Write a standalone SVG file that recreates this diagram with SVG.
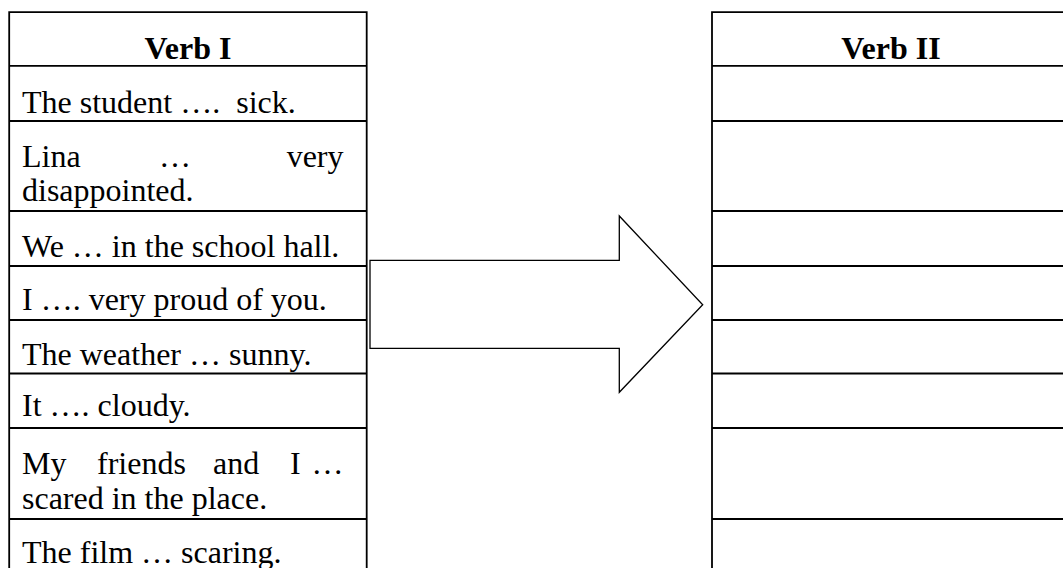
<svg xmlns="http://www.w3.org/2000/svg" width="1063" height="568" viewBox="0 0 1063 568">
<style>
.grid{stroke:#000;stroke-width:1.8;fill:none}
.t{font-family:"Liberation Serif","Times New Roman",serif;font-size:32px;fill:#000}
.h{font-family:"Liberation Serif","Times New Roman",serif;font-size:32px;font-weight:bold;fill:#000;text-anchor:middle}
.arrow{fill:#fff;stroke:#000;stroke-width:1.3;stroke-linejoin:miter}
</style>
<rect width="1063" height="568" fill="#fff"/>
<g id="verb1-table">
  <path class="grid" d="M9.2 572V12.2H366.7V572"/>
  <path class="grid" d="M9.2 65.8H366.7M9.2 121H366.7M9.2 211H366.7M9.2 266H366.7M9.2 320H366.7M9.2 373.5H366.7M9.2 428H366.7M9.2 519H366.7"/>
  <g id="verb1-header"><text class="h" x="188" y="59">Verb I</text></g>
  <g id="v1-row1"><text class="t" x="22" y="113">The student ….&#160; sick.</text></g>
  <g id="v1-row2">
    <text class="t" x="22" y="166.5">Lina</text>
    <text class="t" x="159" y="166.5">…</text>
    <text class="t" x="343.5" y="166.5" text-anchor="end">very</text>
    <text class="t" x="22" y="201">disappointed.</text>
  </g>
  <g id="v1-row3"><text class="t" x="22" y="256.5">We … in the school hall.</text></g>
  <g id="v1-row4"><text class="t" x="22" y="309.5">I …. very proud of you.</text></g>
  <g id="v1-row5"><text class="t" x="22" y="365">The weather … sunny.</text></g>
  <g id="v1-row6"><text class="t" x="22" y="415.5">It …. cloudy.</text></g>
  <g id="v1-row7">
    <text class="t" x="22" y="473.5">My</text>
    <text class="t" x="97" y="473.5">friends</text>
    <text class="t" x="213" y="473.5">and</text>
    <text class="t" x="290" y="473.5">I</text>
    <text class="t" x="343.5" y="473.5" text-anchor="end">…</text>
    <text class="t" x="22" y="508.5">scared in the place.</text>
  </g>
  <g id="v1-row8"><text class="t" x="22" y="563">The film … scaring.</text></g>
</g>
<g id="verb2-table">
  <path class="grid" d="M712 572V12.2H1070V572"/>
  <path class="grid" d="M712 65.8H1070M712 121H1070M712 211H1070M712 266H1070M712 320H1070M712 373.5H1070M712 428H1070M712 519H1070"/>
  <g id="verb2-header"><text class="h" x="891" y="59">Verb II</text></g>
</g>
<g id="connectors">
  <polygon id="block-arrow" class="arrow" points="370,260.3 619.3,260.3 619.3,216 702.7,304.7 619.3,392.3 619.3,348.3 370,348.3"/>
</g>
</svg>
